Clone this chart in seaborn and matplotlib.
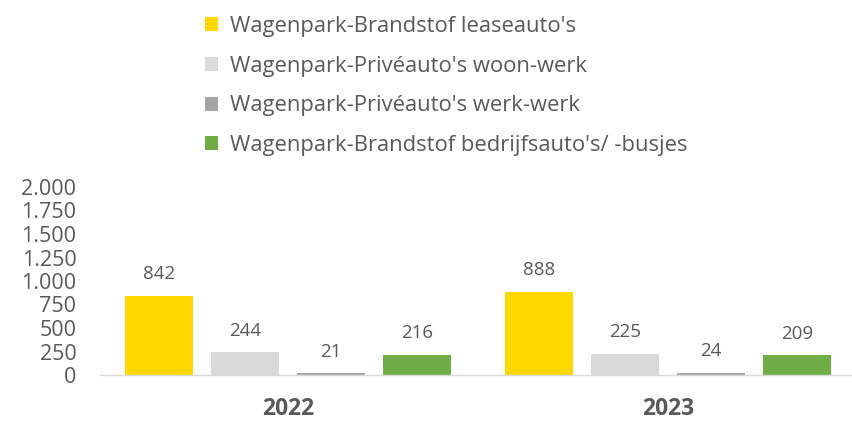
import matplotlib
matplotlib.use("Agg")
import matplotlib.pyplot as plt
import seaborn as sns
import pandas as pd
from matplotlib.patches import Patch
from matplotlib.ticker import FuncFormatter

years = ["2022", "2023"]
series = ["Wagenpark-Brandstof leaseauto's",
          "Wagenpark-Privéauto's woon-werk",
          "Wagenpark-Privéauto's werk-werk",
          "Wagenpark-Brandstof bedrijfsauto's/ -busjes"]
lease = [842, 888]
woon_werk = [244, 225]
werk_werk = [21, 24]
bedrijf = [216, 209]
colors = ["#FFD800", "#D9D9D9", "#A5A5A5", "#70AD47"]

rows = []
for s, vals in zip(series, [lease, woon_werk, werk_werk, bedrijf]):
    for y, v in zip(years, vals):
        rows.append({"year": y, "series": s, "value": v})
df = pd.DataFrame(rows)

sns.set_theme(style="white")
plt.rcParams['font.family'] = ['Open Sans', 'DejaVu Sans']
txt = "#595959"

fig = plt.figure(figsize=(8.52, 4.21), dpi=100)
ax = fig.add_axes([100/852, 1-375/421, 1-100/852, (375-187)/421])

sns.barplot(data=df, x="year", y="value", hue="series", hue_order=series,
            palette=colors, width=0.905, gap=0.21, ax=ax, legend=False,
            saturation=1, edgecolor="none")

for c in ax.containers:
    ax.bar_label(c, labels=[f"{int(v)}" for v in c.datavalues], padding=9,
                 fontsize=13.5, color=txt)

ax.set_xlim(-0.495, 1.484)
ax.set_ylim(0, 2000)
ax.set_yticks(range(0, 2001, 250))
ax.yaxis.set_major_formatter(FuncFormatter(lambda v, p: f"{int(v):,}".replace(",", ".")))
for s in ["top", "right", "left"]:
    ax.spines[s].set_visible(False)
ax.spines["bottom"].set_color("#D9D9D9")
ax.spines["bottom"].set_linewidth(1)
ax.tick_params(axis="y", length=0, pad=17, labelsize=15.5, labelcolor=txt)
ax.tick_params(axis="x", length=0, pad=16, labelsize=16.5, labelcolor=txt)
for lab in ax.get_xticklabels():
    lab.set_fontweight("bold")
ax.set_xlabel("")
ax.set_ylabel("")
ax.grid(False)

handles = [Patch(facecolor=c, edgecolor="none") for c in colors]
fig.legend(handles, series, loc="upper left", bbox_to_anchor=(192/852, 1 - 3/421),
           frameon=False, fontsize=15.8, labelcolor=txt, handlelength=0.6,
           handleheight=0.6, handletextpad=0.55, labelspacing=0.85,
           borderaxespad=0.2)

fig.savefig("out.png", dpi=100)
